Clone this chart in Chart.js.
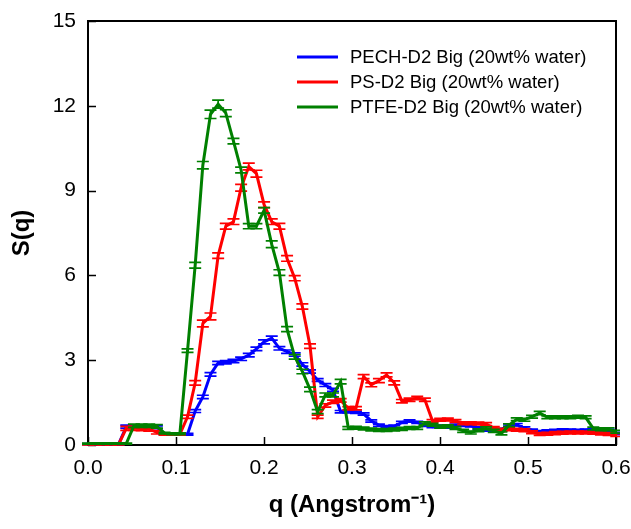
<!DOCTYPE html>
<html>
<head>
<meta charset="utf-8">
<script src="https://cdn.jsdelivr.net/npm/chart.js@4.4.1/dist/chart.umd.min.js"></script>
<style>
html,body{margin:0;padding:0;background:#ffffff;}
#wrap{width:631px;height:529px;position:relative;}
</style>
</head>
<body>
<div id="wrap"><canvas id="c" width="631" height="529"></canvas></div>
<script>
// ---- data ----
const qValues = [0, 0.0087, 0.0174, 0.0261, 0.0348, 0.0435, 0.0522, 0.0609, 0.0696, 0.0783,
  0.087, 0.0957, 0.1044, 0.1131, 0.1218, 0.1305, 0.1392, 0.1479, 0.1566, 0.1653,
  0.174, 0.1827, 0.1914, 0.2001, 0.2088, 0.2175, 0.2262, 0.2349, 0.2436, 0.2523,
  0.261, 0.2697, 0.2784, 0.2871, 0.2958, 0.3045, 0.3132, 0.3219, 0.3306, 0.3393,
  0.348, 0.3567, 0.3654, 0.3741, 0.3828, 0.3915, 0.4002, 0.4089, 0.4176, 0.4263,
  0.435, 0.4437, 0.4524, 0.4611, 0.4698, 0.4785, 0.4872, 0.4959, 0.5046, 0.5133,
  0.522, 0.5307, 0.5394, 0.5481, 0.5568, 0.5655, 0.5742, 0.5829, 0.5916, 0.6003];

const pechValues = [0.03, 0.03, 0.03, 0.03, 0.03, 0.65, 0.65, 0.65, 0.65, 0.63,
  0.40, 0.38, 0.38, 0.38, 1.20, 1.70, 2.50, 2.90, 2.93, 2.97,
  3.05, 3.18, 3.40, 3.65, 3.78, 3.42, 3.30, 3.20, 2.85, 2.60,
  2.30, 2.12, 1.95, 1.18, 1.18, 1.16, 1.10, 0.85, 0.70, 0.65,
  0.66, 0.80, 0.85, 0.80, 0.70, 0.65, 0.66, 0.64, 0.70, 0.70,
  0.68, 0.60, 0.53, 0.53, 0.55, 0.71, 0.72, 0.60, 0.52, 0.47,
  0.50, 0.51, 0.53, 0.52, 0.51, 0.52, 0.53, 0.53, 0.52, 0.41];

const psValues = [0.02, 0.02, 0.02, 0.02, 0.02, 0.59, 0.59, 0.58, 0.56, 0.45,
  0.38, 0.38, 0.38, 1.00, 2.20, 4.30, 4.55, 6.70, 7.74, 7.90,
  9.10, 9.85, 9.60, 8.50, 7.90, 7.74, 6.60, 5.90, 4.90, 3.50,
  1.00, 1.40, 1.53, 1.58, 1.30, 1.30, 2.42, 2.13, 2.28, 2.48,
  2.20, 1.55, 1.60, 1.66, 1.60, 0.85, 0.89, 0.90, 0.85, 0.77,
  0.77, 0.76, 0.74, 0.60, 0.54, 0.56, 0.54, 0.52, 0.45, 0.39,
  0.40, 0.42, 0.43, 0.44, 0.44, 0.44, 0.43, 0.41, 0.39, 0.35];

const ptfeValues = [0.05, 0.05, 0.05, 0.05, 0.05, 0.05, 0.68, 0.68, 0.68, 0.66,
  0.42, 0.40, 0.40, 3.34, 6.36, 9.90, 11.70, 12.06, 11.74, 10.75,
  9.73, 7.74, 7.74, 8.30, 7.10, 6.10, 4.10, 3.12, 2.60, 1.97,
  1.18, 1.77, 1.77, 2.24, 0.60, 0.61, 0.58, 0.55, 0.53, 0.53,
  0.55, 0.57, 0.60, 0.60, 0.77, 0.72, 0.65, 0.66, 0.60, 0.50,
  0.44, 0.52, 0.59, 0.50, 0.41, 0.70, 0.91, 0.89, 1.00, 1.13,
  0.98, 0.98, 0.98, 0.98, 1.00, 0.98, 0.58, 0.56, 0.56, 0.47];

const pechErr = [0.02, 0.02, 0.02, 0.02, 0.02, 0.05, 0.05, 0.05, 0.05, 0.05,
  0.03, 0.03, 0.03, 0.03, 0.05, 0.06, 0.06, 0.06, 0.06, 0.06,
  0.06, 0.06, 0.06, 0.07, 0.07, 0.06, 0.06, 0.06, 0.06, 0.06,
  0.05, 0.05, 0.05, 0.04, 0.04, 0.04, 0.04, 0.04, 0.04, 0.04,
  0.04, 0.04, 0.04, 0.04, 0.04, 0.04, 0.04, 0.04, 0.04, 0.04,
  0.04, 0.04, 0.04, 0.04, 0.04, 0.04, 0.04, 0.04, 0.04, 0.04,
  0.04, 0.04, 0.04, 0.04, 0.04, 0.04, 0.04, 0.04, 0.04, 0.04];

const psErr = [0.02, 0.02, 0.02, 0.02, 0.02, 0.07, 0.07, 0.07, 0.07, 0.06,
  0.03, 0.03, 0.03, 0.06, 0.08, 0.12, 0.12, 0.10, 0.10, 0.10,
  0.12, 0.12, 0.12, 0.10, 0.10, 0.10, 0.10, 0.09, 0.09, 0.08,
  0.06, 0.06, 0.06, 0.06, 0.06, 0.06, 0.07, 0.07, 0.07, 0.07,
  0.07, 0.06, 0.06, 0.06, 0.06, 0.05, 0.05, 0.05, 0.05, 0.05,
  0.05, 0.05, 0.05, 0.05, 0.05, 0.05, 0.05, 0.05, 0.05, 0.05,
  0.05, 0.05, 0.05, 0.05, 0.05, 0.05, 0.05, 0.05, 0.05, 0.05];

const ptfeErr = [0.02, 0.02, 0.02, 0.02, 0.02, 0.02, 0.06, 0.06, 0.06, 0.06,
  0.03, 0.03, 0.03, 0.06, 0.10, 0.13, 0.15, 0.14, 0.12, 0.10,
  0.10, 0.09, 0.09, 0.10, 0.12, 0.10, 0.09, 0.08, 0.08, 0.08,
  0.07, 0.07, 0.07, 0.08, 0.05, 0.05, 0.05, 0.05, 0.05, 0.05,
  0.05, 0.05, 0.05, 0.05, 0.05, 0.05, 0.05, 0.05, 0.05, 0.05,
  0.05, 0.05, 0.05, 0.05, 0.05, 0.05, 0.05, 0.05, 0.05, 0.06,
  0.05, 0.05, 0.05, 0.05, 0.05, 0.05, 0.05, 0.05, 0.05, 0.05];

const seriesLabels = ['PECH-D2 Big (20wt% water)', 'PS-D2 Big (20wt% water)', 'PTFE-D2 Big (20wt% water)'];
const seriesColors = ['#0000ff', '#ff0000', '#008000'];
const xTickValues = [0, 0.1, 0.2, 0.3, 0.4, 0.5, 0.6];
const yTickValues = [0, 3, 6, 9, 12, 15];
const xTitle = 'q (Angstrom⁻¹)';
const yTitle = 'S(q)';

// ---- build chart ----
const seriesValues = [pechValues, psValues, ptfeValues];
const seriesErrors = [pechErr, psErr, ptfeErr];
const FONT = "'Liberation Sans', Arial, Helvetica, sans-serif";

const datasets = seriesValues.map((vals, k) => ({
  label: seriesLabels[k],
  data: vals.map((v, i) => ({x: qValues[i], y: v})),
  borderColor: seriesColors[k],
  backgroundColor: seriesColors[k],
  borderWidth: 3,
  pointRadius: 0,
  tension: 0,
  order: 3 - k,
  errors: seriesErrors[k]
}));

const errorCapPlugin = {
  id: 'errorCaps',
  afterDatasetDraw(chart, args) {
    const ds = chart.data.datasets[args.index];
    const xs = chart.scales.x, ys = chart.scales.y;
    const a = chart.chartArea;
    const ctx = chart.ctx;
    ctx.save();
    ctx.beginPath();
    ctx.rect(a.left - 8, a.top - 4, a.right - a.left + 12, a.bottom - a.top + 6);
    ctx.clip();
    ctx.strokeStyle = ds.borderColor;
    ctx.lineWidth = 1.7;
    ds.data.forEach((p, i) => {
      const e = ds.errors[i];
      const x = xs.getPixelForValue(p.x);
      const yh = ys.getPixelForValue(p.y + e);
      const yl = ys.getPixelForValue(p.y - e);
      ctx.beginPath();
      ctx.moveTo(x, yh); ctx.lineTo(x, yl);
      ctx.moveTo(x - 6, yh); ctx.lineTo(x + 6, yh);
      ctx.moveTo(x - 6, yl); ctx.lineTo(x + 6, yl);
      ctx.stroke();
    });
    ctx.restore();
  }
};

const framePlugin = {
  id: 'frame',
  beforeDatasetsDraw(chart) {
    const a = chart.chartArea;
    const ctx = chart.ctx;
    const xs = chart.scales.x, ys = chart.scales.y;
    ctx.save();
    ctx.strokeStyle = '#000';
    ctx.lineWidth = 2;
    ctx.strokeRect(a.left, a.top, a.right - a.left, a.bottom - a.top);
    ctx.lineWidth = 1.5;
    ctx.beginPath();
    xTickValues.forEach(v => {
      const x = Math.round(xs.getPixelForValue(v)) + 0.5;
      ctx.moveTo(x, a.bottom); ctx.lineTo(x, a.bottom - 8);
    });
    yTickValues.forEach(v => {
      const y = Math.round(ys.getPixelForValue(v)) + 0.5;
      ctx.moveTo(a.left, y); ctx.lineTo(a.left + 8, y);
    });
    ctx.stroke();
    ctx.restore();
  },
  afterDraw(chart) {
    const ctx = chart.ctx;
    ctx.save();
    ctx.font = '18.5px ' + FONT;
    ctx.textBaseline = 'middle';
    ctx.fillStyle = '#000';
    const rows = [57, 82, 107];
    chart.data.datasets.forEach((ds, k) => {
      const y = rows[k];
      ctx.strokeStyle = ds.borderColor;
      ctx.lineWidth = 3;
      ctx.beginPath();
      ctx.moveTo(297, y); ctx.lineTo(338, y);
      ctx.stroke();
      ctx.fillText(ds.label, 350, y + 1);
    });
    ctx.restore();
  }
};

new Chart(document.getElementById('c'), {
  type: 'line',
  data: { datasets },
  options: {
    responsive: false,
    devicePixelRatio: 1,
    animation: false,
    parsing: true,
    layout: { padding: { top: 21, right: 15, left: 0, bottom: 0 } },
    plugins: { legend: { display: false }, tooltip: { enabled: false } },
    scales: {
      x: {
        type: 'linear',
        min: 0, max: 0.6,
        afterBuildTicks(scale) { scale.ticks = xTickValues.map(v => ({value: v})); },
        afterFit(scale) { scale.height = 84; scale.paddingRight = 0; scale.paddingLeft = 0; },
        grid: { display: false, drawTicks: false },
        border: { display: false },
        ticks: {
          color: '#000',
          padding: 11,
          font: { family: FONT, size: 21 },
          callback: v => Number(v).toFixed(1),
          maxRotation: 0, autoSkip: false
        },
        title: {
          display: true, text: xTitle, color: '#000',
          font: { family: FONT, size: 24, weight: 'bold' },
          padding: { top: 0, bottom: 9 }
        }
      },
      y: {
        type: 'linear',
        min: 0, max: 15,
        afterBuildTicks(scale) { scale.ticks = yTickValues.map(v => ({value: v})); },
        afterFit(scale) { scale.width = 88; scale.paddingTop = 0; scale.paddingBottom = 0; },
        grid: { display: false, drawTicks: false },
        border: { display: false },
        ticks: {
          color: '#000',
          padding: 12,
          font: { family: FONT, size: 21 },
          autoSkip: false
        },
        title: {
          display: true, text: yTitle, color: '#000',
          font: { family: FONT, size: 24, weight: 'bold' },
          padding: { top: 8, bottom: 0 }
        }
      }
    }
  },
  plugins: [errorCapPlugin, framePlugin]
});
</script>
</body>
</html>
